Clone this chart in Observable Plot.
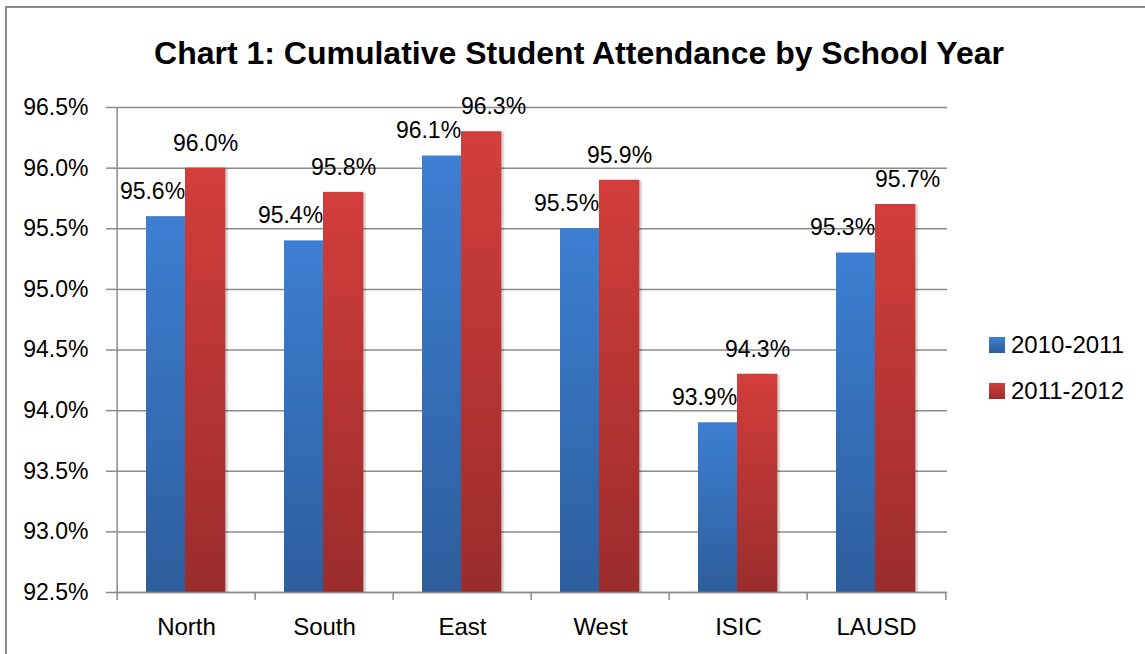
<!DOCTYPE html>
<html><head><meta charset="utf-8">
<script src="https://cdn.jsdelivr.net/npm/d3@7"></script>
<script src="https://cdn.jsdelivr.net/npm/@observablehq/plot@0.6"></script>
<style>
html,body{margin:0;padding:0;background:#fff;}
#wrap{position:relative;width:1145px;height:654px;overflow:hidden;font-family:"Liberation Sans",Arial,sans-serif;color:#000;}
#frame{position:absolute;left:5px;top:6px;width:1300px;height:800px;border:2px solid #8a8a8a;box-sizing:border-box;}
#title{position:absolute;left:0;top:34px;width:1158px;text-align:center;font-weight:bold;font-size:32px;line-height:38px;}
#chart{position:absolute;left:0;top:0;}
.leg{position:absolute;left:989px;height:24px;font-size:24px;line-height:24px;display:flex;align-items:center;}
.sw{width:16px;height:16px;margin-right:6px;}
</style></head>
<body>
<div id="wrap">
  <div id="frame"></div>
  <div id="chart"></div>
  <div id="title">Chart 1: Cumulative Student Attendance by School Year</div>
  <div class="leg" style="top:333px"><div class="sw" style="background:linear-gradient(#3d7fd2,#2d5d9c)"></div><span id="l0"></span></div>
  <div class="leg" style="top:379px"><div class="sw" style="background:linear-gradient(#d23e3b,#9b2c2c)"></div><span id="l1"></span></div>
</div>
<script>
const schools = ["North", "South", "East", "West", "ISIC", "LAUSD"];
const years = ["2010-2011", "2011-2012"];
const att2010 = [95.6, 95.4, 96.1, 95.5, 93.9, 95.3];
const att2011 = [96.0, 95.8, 96.3, 95.9, 94.3, 95.7];
const yTicks = [92.5, 93.0, 93.5, 94.0, 94.5, 95.0, 95.5, 96.0, 96.5];

document.getElementById("l0").textContent = years[0];
document.getElementById("l1").textContent = years[1];

const rows0 = schools.map((s, i) => ({school: s, year: years[0], value: att2010[i]}));
const rows1 = schools.map((s, i) => ({school: s, year: years[1], value: att2011[i]}));

const W = 1145, H = 654, mL = 115, mR = 198, mT = 107, mB = 62;
const half = (W - mL - mR) / schools.length / 2;
const grid = "#8c8c8c";
const fmt = d => d.toFixed(1) + "%";

const defs = () => {
  const g = d3.create("svg:defs");
  const mk = (id, c0, c1) => {
    const lg = g.append("linearGradient").attr("id", id).attr("x1", 0).attr("y1", 0).attr("x2", 0).attr("y2", 1);
    lg.append("stop").attr("offset", "0%").attr("stop-color", c0);
    lg.append("stop").attr("offset", "100%").attr("stop-color", c1);
  };
  mk("gBlue", "#3d7fd2", "#2d5d9c");
  mk("gRed", "#d23e3b", "#9b2c2c");
  return g.node();
};

const shifted = ["East", "LAUSD"];
const blueInset = {insetLeft: 29, insetRight: 2 * half - 69};
const redInset = {insetLeft: 68, insetRight: 2 * half - 109};

const chart = Plot.plot({
  width: W, height: H,
  marginLeft: mL, marginRight: mR, marginTop: mT, marginBottom: mB,
  style: {fontFamily: "'Liberation Sans', Arial, sans-serif", fontSize: "23px", color: "#000", background: "transparent", overflow: "visible"},
  x: {domain: schools, padding: 0, label: null},
  y: {domain: [92.5, 96.5], label: null},
  marks: [
    defs,
    Plot.gridY(yTicks, {stroke: grid, strokeOpacity: 1, strokeWidth: 1.5}),
    Plot.axisY(yTicks, {tickSize: 9, tickPadding: 18, tickFormat: fmt, stroke: grid, strokeWidth: 1.5, fill: "#000", fontSize: 23, label: null}),
    Plot.ruleX([schools[0]], {x: d => d, dx: -half, stroke: grid, strokeWidth: 1.5}),
    Plot.axisX(schools, {tickSize: 8, dx: -half, text: null, stroke: grid, strokeWidth: 1.5, label: null}),
    Plot.axisX([schools[schools.length - 1]], {tickSize: 8, dx: half, text: null, stroke: grid, strokeWidth: 1.5, label: null}),
    Plot.axisX(schools, {tickSize: 0, tickPadding: 25, fill: "#000", fontSize: 24, label: null}),
    Plot.barY(rows1, {x: "school", y1: 92.5, y2: "value", fill: "#000", fillOpacity: 0.12, dx: 3, dy: 1, ...redInset}),
    Plot.barY(rows1, {x: "school", y1: 92.5, y2: "value", fill: "#000", fillOpacity: 0.08, dx: 1.5, dy: 0, ...redInset}),
    Plot.barY(rows0, {x: "school", y1: 92.5, y2: "value", fill: "url(#gBlue)", ...blueInset}),
    Plot.barY(rows1, {x: "school", y1: 92.5, y2: "value", fill: "url(#gRed)", ...redInset}),
    Plot.ruleY([92.5], {stroke: grid, strokeWidth: 1.5}),
    Plot.text(rows0, {x: "school", y: "value", text: d => fmt(d.value), dx: -34, dy: -25, fill: "#000", fontSize: 23}),
    Plot.text(rows1, {filter: d => !shifted.includes(d.school), x: "school", y: "value", text: d => fmt(d.value), dx: 19, dy: -25, fill: "#000", fontSize: 23}),
    Plot.text(rows1, {filter: d => shifted.includes(d.school), x: "school", y: "value", text: d => fmt(d.value), dx: 31, dy: -25, fill: "#000", fontSize: 23})
  ]
});
document.getElementById("chart").appendChild(chart);
</script>
</body></html>
